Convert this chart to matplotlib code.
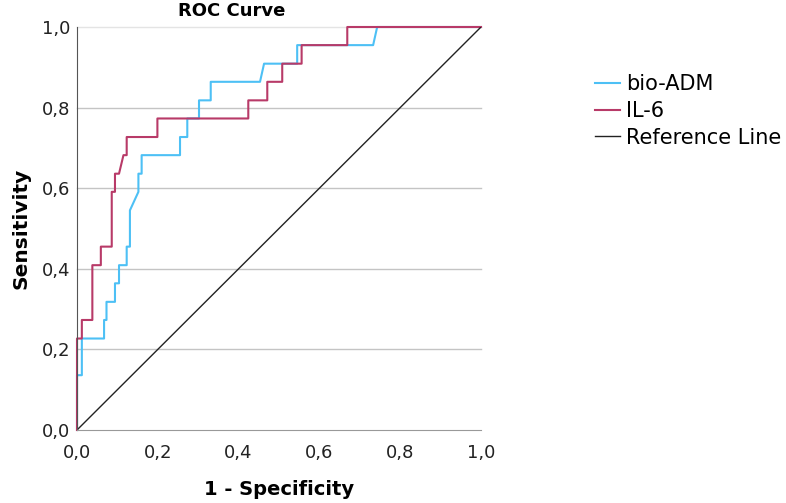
import matplotlib
matplotlib.use("Agg")
import matplotlib.pyplot as plt
from matplotlib.ticker import FuncFormatter

# ROC step points (1 - specificity, sensitivity)
adm_fpr = [0, 0, 0.012, 0.012, 0.067, 0.067, 0.073, 0.073, 0.094, 0.094,
           0.104, 0.104, 0.123, 0.123, 0.131, 0.131, 0.152, 0.152, 0.160,
           0.160, 0.255, 0.255, 0.273, 0.273, 0.302, 0.302, 0.331, 0.331,
           0.453, 0.463, 0.545, 0.545, 0.733, 0.743, 1.0]
adm_tpr = [0, 0.136, 0.136, 0.227, 0.227, 0.273, 0.273, 0.318, 0.318, 0.364,
           0.364, 0.409, 0.409, 0.455, 0.455, 0.545, 0.591, 0.636, 0.636,
           0.682, 0.682, 0.727, 0.727, 0.773, 0.773, 0.818, 0.818, 0.864,
           0.864, 0.909, 0.909, 0.955, 0.955, 1.0, 1.0]

il6_fpr = [0, 0, 0.012, 0.012, 0.038, 0.038, 0.059, 0.059, 0.086, 0.086,
           0.094, 0.094, 0.104, 0.115, 0.123, 0.123, 0.199, 0.199, 0.424,
           0.424, 0.471, 0.471, 0.508, 0.508, 0.556, 0.556, 0.669, 0.669, 1.0]
il6_tpr = [0, 0.227, 0.227, 0.273, 0.273, 0.409, 0.409, 0.455, 0.455, 0.591,
           0.591, 0.636, 0.636, 0.682, 0.682, 0.727, 0.727, 0.773, 0.773,
           0.818, 0.818, 0.864, 0.864, 0.909, 0.909, 0.955, 0.955, 1.0, 1.0]

ref_line = [0, 1]
ticks = [0, 0.2, 0.4, 0.6, 0.8, 1.0]

fig = plt.figure(figsize=(7.86, 5.03), dpi=100)
ax = fig.add_axes([77 / 786, 73 / 503, 404 / 786, 403 / 503])

for t in ticks[1:]:
    ax.axhline(t, color="#c4c4c4" if t < 1 else "#e4e4e4", lw=1.0, zorder=0,
               clip_on=False)

l1, = ax.plot(adm_fpr, adm_tpr, color="#4dc0f5", lw=1.5, clip_on=False)
l2, = ax.plot(il6_fpr, il6_tpr, color="#b83a68", lw=1.5, clip_on=False)
l3, = ax.plot(ref_line, ref_line, color="#222222", lw=1.0)

ax.set_xlim(0, 1)
ax.set_ylim(0, 1)
ax.set_xticks(ticks)
ax.set_yticks(ticks)
fmt = FuncFormatter(lambda v, p: f"{v:.1f}".replace(".", ","))
ax.xaxis.set_major_formatter(fmt)
ax.yaxis.set_major_formatter(fmt)
ax.tick_params(length=0, labelsize=13, colors="#222222")
ax.tick_params(axis="x", pad=10)
ax.tick_params(axis="y", pad=5)

for s in ["top", "right"]:
    ax.spines[s].set_visible(False)
ax.spines["left"].set_color("#555555")
ax.spines["bottom"].set_color("#999999")

ax.set_xlabel("1 - Specificity", fontsize=14, fontweight="bold", labelpad=13)
ax.set_ylabel("Sensitivity", fontsize=14.5, fontweight="bold", labelpad=8)
fig.text(232 / 786, 1 - 11 / 503, "ROC Curve", ha="center", va="center",
         fontsize=13, fontweight="bold")

fig.legend([l1, l2, l3], ["bio-ADM", "IL-6", "Reference Line"],
           loc="upper left", bbox_to_anchor=(585 / 786, 1 - 64 / 503),
           frameon=False, fontsize=15, handlelength=1.2,
           handletextpad=0.25, labelspacing=0.32, borderpad=0)

fig.savefig("out.png", dpi=100)
